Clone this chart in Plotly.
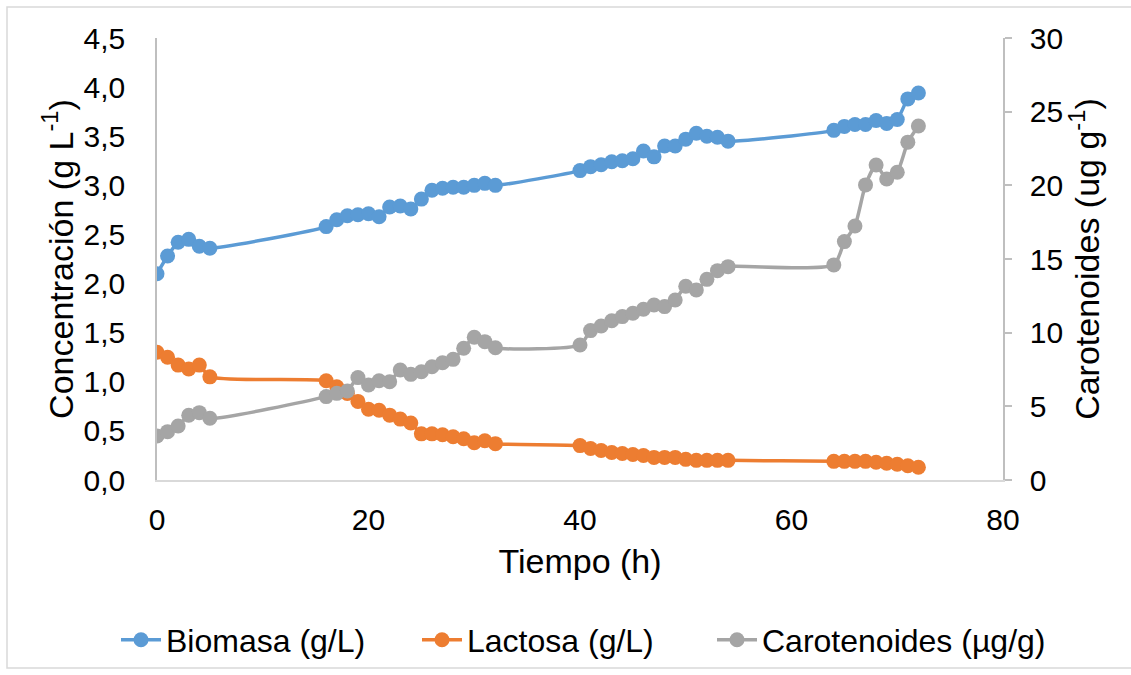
import plotly.graph_objects as go

tiempo = [0, 1, 2, 3, 4, 5,
          16, 17, 18, 19, 20, 21, 22, 23, 24, 25, 26, 27, 28, 29, 30, 31, 32,
          40, 41, 42, 43, 44, 45, 46, 47, 48, 49, 50, 51, 52, 53, 54,
          64, 65, 66, 67, 68, 69, 70, 71, 72]

biomasa = [2.10, 2.28, 2.42, 2.45, 2.38, 2.36,
           2.58, 2.65, 2.69, 2.70, 2.71, 2.68, 2.78, 2.79, 2.76, 2.86, 2.95, 2.97, 2.98, 2.98, 3.00, 3.02, 3.00,
           3.15, 3.19, 3.21, 3.24, 3.25, 3.27, 3.35, 3.29, 3.40, 3.40, 3.47, 3.53, 3.50, 3.49, 3.45,
           3.56, 3.60, 3.62, 3.62, 3.66, 3.63, 3.67, 3.88, 3.94]

lactosa = [1.30, 1.25, 1.17, 1.13, 1.17, 1.05,
           1.01, 0.95, 0.88, 0.80, 0.72, 0.71, 0.66, 0.62, 0.58, 0.47, 0.47, 0.46, 0.44, 0.42, 0.38, 0.40, 0.37,
           0.35, 0.32, 0.30, 0.28, 0.27, 0.26, 0.25, 0.23, 0.23, 0.23, 0.21, 0.20, 0.20, 0.20, 0.20,
           0.19, 0.19, 0.19, 0.19, 0.18, 0.17, 0.16, 0.145, 0.13]

carotenoides = [2.99, 3.28, 3.67, 4.39, 4.57, 4.19,
                5.66, 5.88, 6.04, 6.95, 6.45, 6.74, 6.67, 7.47, 7.17, 7.35, 7.69, 7.96, 8.19, 8.94, 9.69, 9.39, 8.98,
                9.16, 10.14, 10.45, 10.81, 11.09, 11.32, 11.59, 11.88, 11.77, 12.22, 13.15, 12.90, 13.62, 14.21, 14.48,
                14.60, 16.18, 17.24, 20.03, 21.38, 20.43, 20.89, 22.93, 24.03]

W, H = 1131, 675
L, R, T, B = 157, 128, 38, 195
FONT = "Liberation Sans, Arial, sans-serif"
FS = 30      # tick labels
FT = 34      # axis titles
FL = 32      # legend

pw, ph = W - L - R, H - T - B
def px(xp): return (xp - L) / pw
def py(yp): return (H - B - yp) / ph

def trace(name, y, color, legend, yaxis="y"):
    return go.Scatter(x=tiempo, y=y, name=name, mode="lines+markers", yaxis=yaxis, legend=legend,
                      line=dict(color=color, width=3.5, shape="spline", smoothing=0.6),
                      marker=dict(color=color, size=15))

fig = go.Figure()
fig.add_trace(trace("Biomasa (g/L)", biomasa, "#5B9BD5", "legend"))
fig.add_trace(trace("Lactosa (g/L)", lactosa, "#ED7D31", "legend2"))
fig.add_trace(trace("Carotenoides (µg/g)", carotenoides, "#A5A5A5", "legend3", "y2"))

def leg(xpix):
    return dict(orientation="h", x=px(xpix), xanchor="left", y=py(640), yanchor="middle",
                font=dict(size=FL), bgcolor="rgba(0,0,0,0)", itemwidth=40)

fig.update_layout(
    width=W, height=H,
    margin=dict(l=L, r=R, t=T, b=B, autoexpand=False),
    paper_bgcolor="white", plot_bgcolor="white",
    separators=",.",
    font=dict(family=FONT, size=FS, color="#000000"),
    showlegend=True,
    legend=leg(116), legend2=leg(417), legend3=leg(712),
    xaxis=dict(range=[0, 80], dtick=20, tick0=0, showgrid=False, zeroline=False,
               showline=True, linecolor="#d9d9d9", linewidth=1.5, ticks="",
               ticklabelstandoff=12,
               title=dict(text="Tiempo (h)", standoff=14, font=dict(size=FT))),
    yaxis=dict(range=[0, 4.5], dtick=0.5, tick0=0, tickformat=".1f", showgrid=False, zeroline=False,
               showline=True, linecolor="#bfbfbf", linewidth=1.5, ticks="",
               ticklabelstandoff=24,
               title=dict(text="Concentración (g L<sup>-1</sup>)", standoff=0, font=dict(size=FT))),
    yaxis2=dict(range=[0, 30], dtick=5, tick0=0, overlaying="y", side="right", showgrid=False,
                zeroline=False, showline=True, linecolor="#bfbfbf", linewidth=1.5,
                ticks="outside", ticklen=7, tickcolor="#bfbfbf", tickwidth=1.5,
                ticklabelstandoff=12,
                title=dict(text="Carotenoides (ug g<sup>-1</sup>)", standoff=10, font=dict(size=FT))),
    shapes=[dict(type="rect", xref="paper", yref="paper",
                 x0=px(7), x1=px(1140), y0=py(668), y1=py(7),
                 line=dict(color="#d9d9d9", width=1.5), fillcolor="rgba(0,0,0,0)", layer="below")],
)

fig.write_html("out.html")
